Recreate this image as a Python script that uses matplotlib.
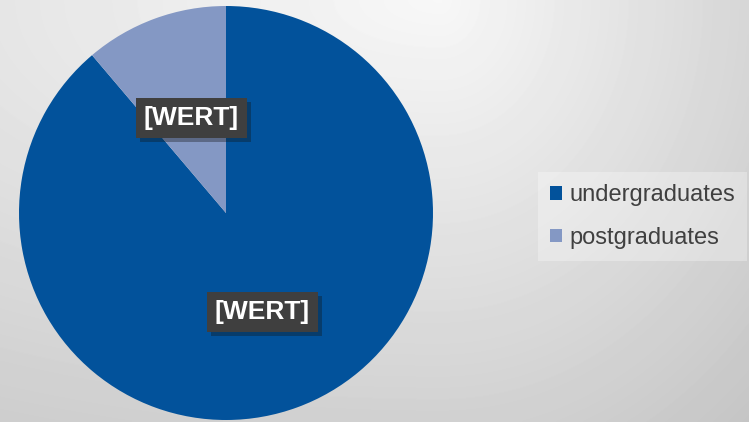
import numpy as np
import matplotlib.pyplot as plt
from matplotlib import patheffects

categories = ["undergraduates", "postgraduates"]
shares = [88.8, 11.2]
colors = ["#02529b", "#8498c4"]
label_text = "[WERT]"
label_dist = [0.51, 0.49]

plt.rcParams['font.family'] = ['Liberation Sans', 'DejaVu Sans']

W, H = 749, 422
fig = plt.figure(figsize=(W / 100, H / 100), dpi=100)

# grey backdrop, lightest near the top middle
yy, xx = np.mgrid[0:H, 0:W].astype(float)
dx = xx - 440.0
sx = np.where(dx < 0, 440.0 / 0.07, 309.0 / 0.13)
sy = 422.0 / 0.15
shade = 0.97 - np.sqrt((dx / sx) ** 2 + (yy / sy) ** 2)

ax_bg = fig.add_axes([0, 0, 1, 1])
ax_bg.imshow(shade, cmap="gray", vmin=0, vmax=1, aspect="auto",
             interpolation="bilinear")
ax_bg.axis("off")

# pie
cx, cy, r = 226, 213, 207
ax = fig.add_axes([(cx - r) / W, (H - cy - r) / H, 2 * r / W, 2 * r / H])
wedges, texts, autotexts = ax.pie(
    shares, colors=colors, startangle=90, counterclock=False,
    autopct=lambda p: label_text, pctdistance=0.5,
    wedgeprops=dict(linewidth=0))
ax.set_xlim(-1, 1)
ax.set_ylim(-1, 1)
ax.set_aspect("equal")

for w, t, d in zip(wedges, autotexts, label_dist):
    ang = np.deg2rad((w.theta1 + w.theta2) / 2)
    t.set_position((d * np.cos(ang), d * np.sin(ang)))
    t.set_color("white")
    t.set_fontweight("bold")
    t.set_fontsize(19)
    t.set_bbox(dict(boxstyle="square,pad=0.3", facecolor="#3f3f3f",
                    edgecolor="none"))
    t.get_bbox_patch().set_path_effects(
        [patheffects.withSimplePatchShadow(offset=(3, -3), alpha=0.35)])

leg = ax.legend(wedges, categories, loc="center left",
                bbox_to_anchor=(538 / W, 1 - 216.5 / H),
                bbox_transform=fig.transFigure,
                frameon=True, fancybox=False, edgecolor="none",
                facecolor="white", framealpha=0.3, fontsize=17,
                handlelength=0.53, handleheight=0.53, handletextpad=0.3,
                labelspacing=0.88, borderpad=0.5, borderaxespad=0,
                labelcolor="#404040")

fig.savefig("out.png", dpi=100)
